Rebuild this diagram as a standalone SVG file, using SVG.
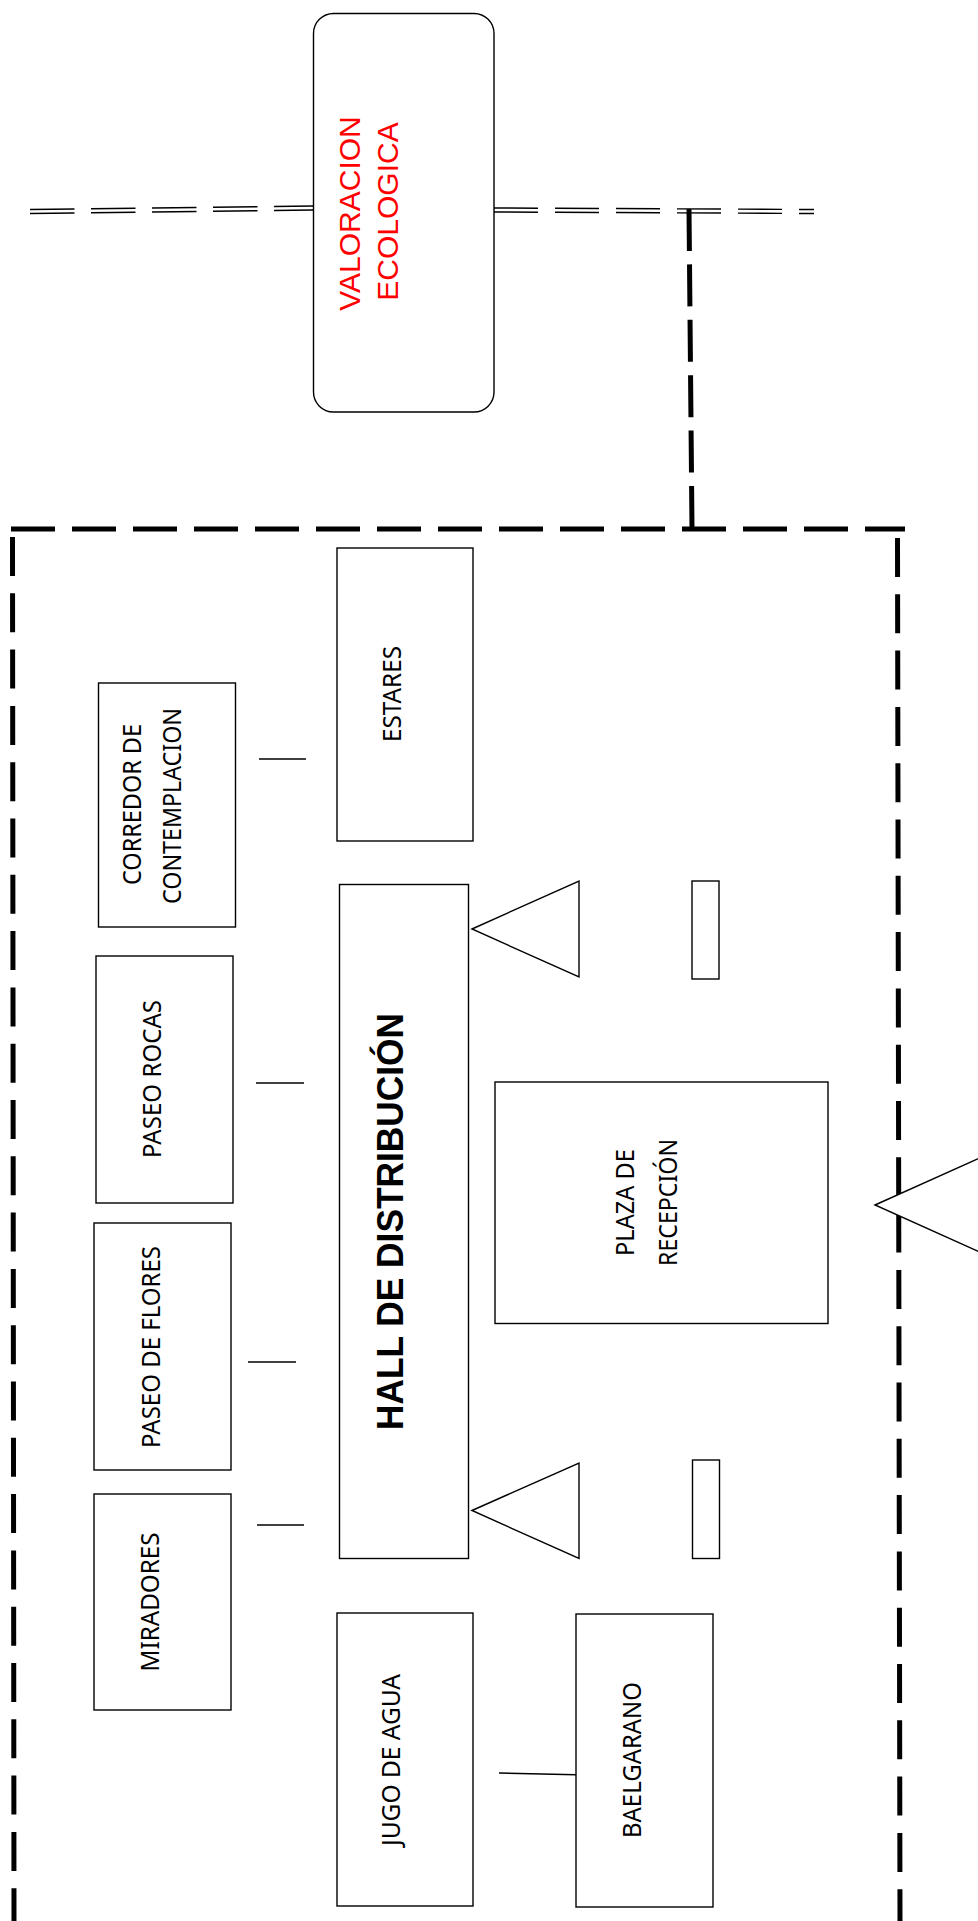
<svg xmlns="http://www.w3.org/2000/svg" width="978" height="1921" viewBox="0 0 978 1921">
<style>
.box{fill:#fff;stroke:#000;stroke-width:1.4}
.tri{fill:#fff;stroke:#000;stroke-width:1.4}
.lbl{font-family:"Noto Sans","Open Sans",sans-serif;font-size:25px;fill:#000;text-anchor:middle}
.red{font-family:"Liberation Sans",Arial,sans-serif;font-size:30px;fill:#ff0000;text-anchor:middle}
.hall{font-family:"Liberation Sans",Arial,sans-serif;font-weight:bold;font-size:36px;fill:#000;text-anchor:middle}
.thin{stroke:#000;stroke-width:1.4;fill:none}
.dbl{stroke:#000;stroke-width:1.4;fill:none;stroke-dasharray:44.5 16.5}
.thick{stroke:#000;stroke-width:5;fill:none}
</style>
<rect width="978" height="1921" fill="#fff"/>
<g id="connectors">
<line class="dbl" x1="30" y1="209.5" x2="313" y2="206"/>
<line class="dbl" x1="30" y1="213.5" x2="313" y2="210"/>
<line class="dbl" x1="494" y1="208" x2="814" y2="209.5" style="stroke-dasharray:44 17"/>
<line class="dbl" x1="494" y1="212" x2="814" y2="213.5" style="stroke-dasharray:44 17"/>
<line class="thick" x1="689" y1="209" x2="692" y2="529" style="stroke-dasharray:42 13.4"/>
<line class="thick" x1="11" y1="529" x2="905" y2="529" style="stroke-dasharray:44 17"/>
<line class="thick" x1="12.5" y1="537" x2="14" y2="1921" style="stroke-dasharray:39 17.3"/>
<line class="thick" x1="897.5" y1="538" x2="900" y2="1921" style="stroke-dasharray:39 17.3"/>
<line class="thin" x1="259" y1="759" x2="306" y2="759"/>
<line class="thin" x1="256" y1="1083" x2="304" y2="1083"/>
<line class="thin" x1="248" y1="1362" x2="296" y2="1362"/>
<line class="thin" x1="257" y1="1525" x2="304" y2="1525"/>
<line class="thin" x1="499" y1="1773" x2="587" y2="1775"/>
</g>
<g id="valoracion">
<rect x="313.5" y="13.5" width="180.5" height="398.5" rx="20" ry="20" class="box"/>
<text class="red" transform="translate(360,213.5) rotate(-90)">VALORACION</text>
<text class="red" transform="translate(398,211.5) rotate(-90)">ECOLOGICA</text>
</g>
<g id="estares">
<rect x="337" y="548" width="136" height="293" class="box"/>
<text class="lbl" transform="translate(401,694) rotate(-90)" textLength="96" lengthAdjust="spacingAndGlyphs">ESTARES</text>
</g>
<g id="corredor">
<rect x="98.5" y="683" width="137" height="244" class="box"/>
<text class="lbl" transform="translate(141,804.5) rotate(-90)" textLength="161" lengthAdjust="spacingAndGlyphs">CORREDOR DE</text>
<text class="lbl" transform="translate(181,806) rotate(-90)" textLength="196" lengthAdjust="spacingAndGlyphs">CONTEMPLACION</text>
</g>
<g id="paseo-rocas">
<rect x="96" y="956" width="137" height="247" class="box"/>
<text class="lbl" transform="translate(161,1079) rotate(-90)" textLength="158" lengthAdjust="spacingAndGlyphs">PASEO ROCAS</text>
</g>
<g id="paseo-flores">
<rect x="94" y="1223" width="137" height="247" class="box"/>
<text class="lbl" transform="translate(160,1347) rotate(-90)" textLength="202" lengthAdjust="spacingAndGlyphs">PASEO DE FLORES</text>
</g>
<g id="miradores">
<rect x="94" y="1494" width="137" height="216" class="box"/>
<text class="lbl" transform="translate(159,1602) rotate(-90)" textLength="139" lengthAdjust="spacingAndGlyphs">MIRADORES</text>
</g>
<g id="hall">
<rect x="339.5" y="884.5" width="129" height="674" class="box"/>
<text class="hall" transform="translate(403,1221.5) rotate(-90)" textLength="417" lengthAdjust="spacingAndGlyphs">HALL DE DISTRIBUCIÓN</text>
</g>
<g id="triangulo-1">
<polygon class="tri" points="472,929 579,881 579,977"/>
</g>
<g id="acceso-1">
<rect x="692" y="881" width="27" height="98" class="box"/>
</g>
<g id="triangulo-2">
<polygon class="tri" points="472,1510.5 579,1463 579,1558.5"/>
</g>
<g id="acceso-2">
<rect x="692.5" y="1460" width="27" height="98.5" class="box"/>
</g>
<g id="plaza">
<rect x="495" y="1082" width="333" height="241.5" class="box"/>
<text class="lbl" transform="translate(634,1202.5) rotate(-90)" textLength="107" lengthAdjust="spacingAndGlyphs">PLAZA DE</text>
<text class="lbl" transform="translate(677,1202.5) rotate(-90)" textLength="127" lengthAdjust="spacingAndGlyphs">RECEPCIÓN</text>
</g>
<g id="triangulo-entrada">
<polygon class="tri" points="875,1205 982,1157 982,1253"/>
</g>
<g id="jugo">
<rect x="337" y="1613" width="136" height="293" class="box"/>
<text class="lbl" transform="translate(400,1760) rotate(-90)" textLength="172" lengthAdjust="spacingAndGlyphs">JUGO DE AGUA</text>
</g>
<g id="baelgarano">
<rect x="576" y="1614" width="137" height="293" class="box"/>
<text class="lbl" transform="translate(641,1760) rotate(-90)" textLength="156" lengthAdjust="spacingAndGlyphs">BAELGARANO</text>
</g>
</svg>
